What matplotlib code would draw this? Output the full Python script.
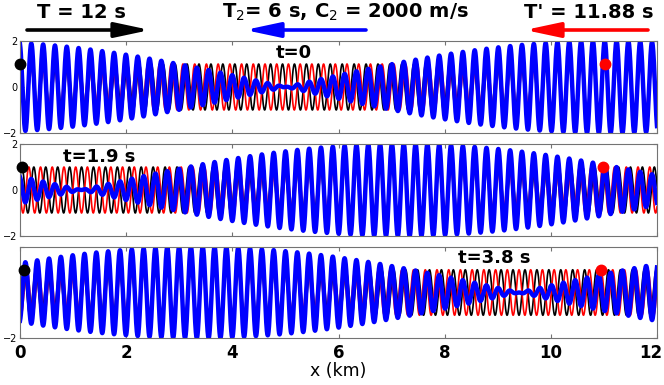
import numpy as np
import matplotlib.pyplot as plt
from matplotlib.patches import FancyArrowPatch
from matplotlib.transforms import ScaledTranslation

# wave parameters
T_black = 12.0        # s, travels to +x
T_red = 11.88         # s, travels to -x
lam_black = 0.2248    # km
lam_red = 0.2207      # km
node_x0 = 5.0         # km, envelope node at t=0
red_dot_x0 = 11.0     # km, red marker at t=0
times = [0.0, 1.9, 3.8]
time_labels = ['t=0', 't=1.9 s', 't=3.8 s']
label_pos = [(5.15, 1.48), (1.5, 1.43), (8.93, 1.5)]
xticks = [0, 2, 4, 6, 8, 10, 12]

kb = 2 * np.pi / lam_black
kr = 2 * np.pi / lam_red
cb = lam_black / T_black
cr = lam_red / T_red
phr = (kb - kr) * node_x0 - np.pi

x = np.linspace(0, 12, 8000)

fig = plt.figure(figsize=(6.64, 3.85), dpi=100)
W, H = 664, 385
panels = [(41, 133), (144, 236), (247, 338)]
grey = '0.45'

for i, t in enumerate(times):
    top, bot = panels[i]
    ax = fig.add_axes([20 / W, 1 - bot / H, 637 / W, (bot - top) / H])
    black = np.cos(kb * (x - cb * t))
    red = np.cos(kr * (x + cr * t) + phr)
    blue = black + red
    ax.plot(x, black, color='k', lw=1.2)
    ax.plot(x, red, color='#ff0000', lw=1.2)
    ax.plot(x, blue, color='#0000ff', lw=3.2)
    # markers riding on a crest of each wave
    ax.plot(cb * t, 1, 'o', color='k', ms=7.5, clip_on=False, zorder=5)
    m = np.round((kr * red_dot_x0 + phr) / (2 * np.pi))
    xr = (2 * np.pi * m - phr) / kr - cr * t
    ax.plot(xr, 1, 'o', color='#ff0000', ms=7.5, zorder=5)
    ax.text(label_pos[i][0], label_pos[i][1], time_labels[i], ha='center', va='center',
            fontsize=13, fontweight='bold')
    ax.set_xlim(0, 12)
    ax.set_ylim(-2, 2)
    ax.set_xticks(xticks)
    ax.set_yticks([-2, 0, 2])
    ax.tick_params(direction='in', top=True, right=True, length=3, colors=grey,
                   labelcolor='k', labelsize=7, pad=2)
    for s in ax.spines.values():
        s.set_color(grey)
    if i < 2:
        ax.set_xticklabels([])
        ax.set_yticklabels(['\u22122', '0', '2'])
    else:
        ax.set_yticklabels(['\u22122', '', ''])
        ax.set_xticklabels([str(v) for v in xticks], fontsize=12, fontweight='bold')
        ax.tick_params(axis='x', pad=4)
        ax.set_xlabel('x (km)', fontsize=12.5, labelpad=0)
        last = ax.get_xticklabels()[-1]
        last.set_transform(last.get_transform() + ScaledTranslation(-6 / 100, 0, fig.dpi_scale_trans))

# header texts and arrows
fig.text(81 / W, 1 - 12 / H, 'T = 12 s', ha='center', va='center', fontsize=14, fontweight='bold')
fig.text(345 / W, 1 - 12 / H, r'T$_2$= 6 s, C$_2$ = 2000 m/s', ha='center', va='center',
         fontsize=14, fontweight='bold')
fig.text(589 / W, 1 - 12 / H, "T' = 11.88 s", ha='center', va='center', fontsize=14, fontweight='bold')

arrows = [((27, 30), (150, 30), 'k'), ((366, 30), (245, 30), '#0000ff'),
          ((648, 30), (525, 30), '#ff0000')]
for (x0, y0), (x1, y1), c in arrows:
    a = FancyArrowPatch((x0 / W, 1 - y0 / H), (x1 / W, 1 - y1 / H), transform=fig.transFigure,
                        arrowstyle='-|>,head_length=1.5,head_width=0.32', mutation_scale=14,
                        lw=2.6, color=c, shrinkA=0, shrinkB=0)
    fig.add_artist(a)

fig.savefig('out.png', dpi=100)
